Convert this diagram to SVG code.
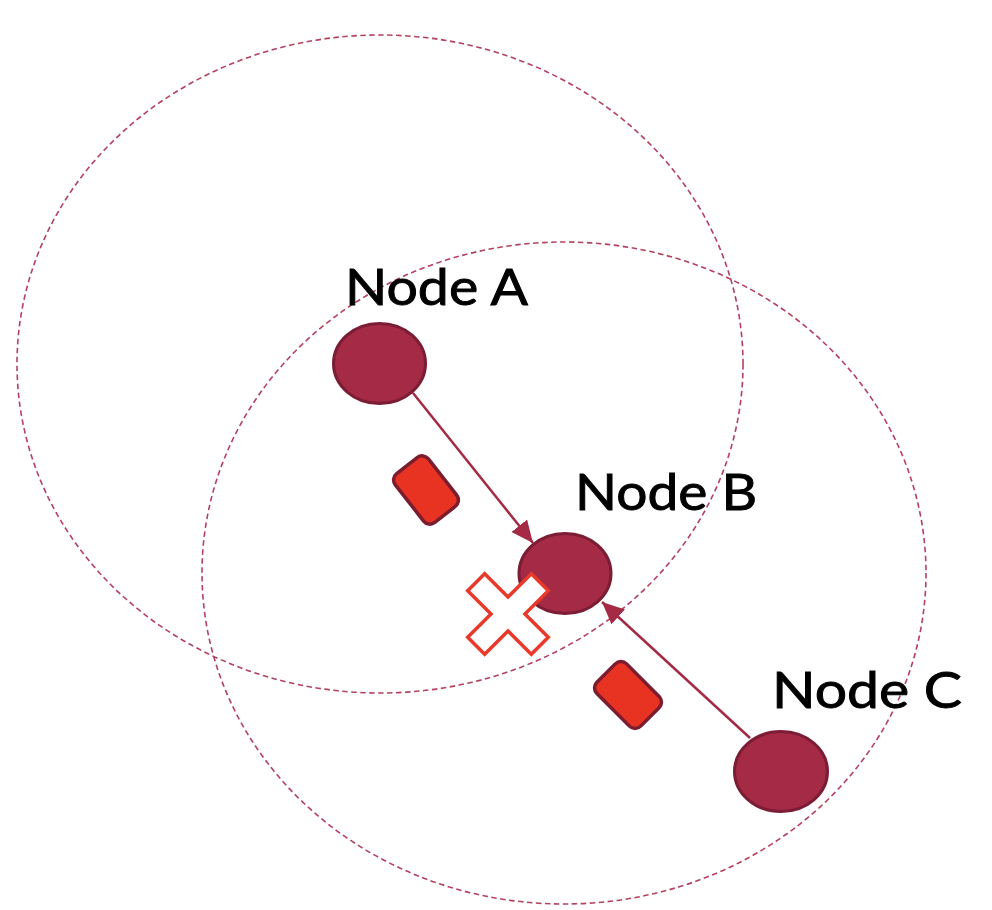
<svg xmlns="http://www.w3.org/2000/svg" width="992" height="910" viewBox="0 0 992 910">
  <style>
    .range { fill: none; stroke: #B4415F; stroke-width: 1.6; stroke-dasharray: 5.5 3.5; }
    .node { fill: #A42A45; stroke: #7B1D34; stroke-width: 3; }
    .label { font-family: Lato, "Open Sans", "DejaVu Sans", sans-serif; font-size: 50px; fill: #000; stroke: #000; stroke-width: 0.9; }
    .link { stroke: #A42A45; stroke-width: 2.5; fill: none; }
    .pkt { fill: #E83323; stroke: #7B1D2E; stroke-width: 3.5; }
    .cross { fill: #FFFFFF; stroke: #E8392A; stroke-width: 3.5; stroke-linejoin: miter; }
  </style>
  <defs>
    <marker id="arrow" markerUnits="userSpaceOnUse" markerWidth="24" markerHeight="22" refX="22" refY="10" orient="auto">
      <path d="M0,0 L22,10 L0,20 Z" fill="#A42A45"/>
    </marker>
  </defs>
  <rect width="992" height="910" fill="#FFFFFF"/>

  <g id="ranges">
    <ellipse class="range" cx="380" cy="364" rx="363" ry="329"/>
    <ellipse class="range" cx="564" cy="573" rx="362" ry="331"/>
  </g>

  <g id="connectors">
    <line class="link" x1="413" y1="393" x2="533" y2="543" marker-end="url(#arrow)"/>
    <line class="link" x1="750" y1="738" x2="602" y2="602" marker-end="url(#arrow)"/>
  </g>

  <g id="packet1">
    <rect class="pkt" x="-31" y="-21" width="62" height="42" rx="8" transform="translate(426,490) rotate(52)"/>
  </g>
  <g id="packet2">
    <rect class="pkt" x="-31" y="-21" width="62" height="42" rx="8" transform="translate(628,695) rotate(45)"/>
  </g>

  <g id="nodeA">
    <ellipse class="node" cx="379.5" cy="363.5" rx="46" ry="40"/>
    <text class="label" x="345" y="305" textLength="183" lengthAdjust="spacingAndGlyphs">Node A</text>
  </g>
  <g id="nodeB">
    <ellipse class="node" cx="565" cy="573.5" rx="46" ry="40"/>
    <text class="label" x="575" y="510" textLength="182" lengthAdjust="spacingAndGlyphs">Node B</text>
  </g>
  <g id="nodeC">
    <ellipse class="node" cx="781" cy="771.5" rx="46.5" ry="40"/>
    <text class="label" x="772" y="708" textLength="190" lengthAdjust="spacingAndGlyphs">Node C</text>
  </g>

  <g id="collision">
    <polygon class="cross" transform="translate(508,614) rotate(45)" points="-12,-45 12,-45 12,-12 45,-12 45,12 12,12 12,45 -12,45 -12,12 -45,12 -45,-12 -12,-12"/>
  </g>
</svg>
